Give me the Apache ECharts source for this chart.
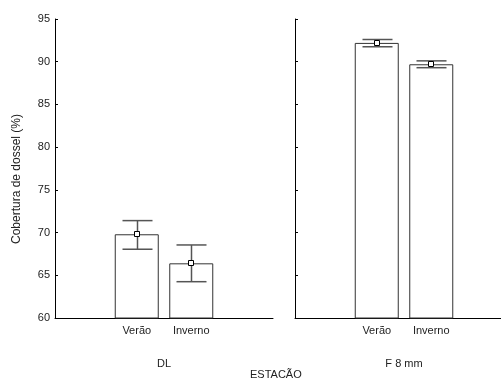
<!DOCTYPE html>
<html><head><meta charset="utf-8">
<script src="https://cdn.jsdelivr.net/npm/echarts@6/dist/echarts.min.js"></script>
<style>html,body{margin:0;padding:0;background:#fff}#c{width:501px;height:381px}</style>
</head><body><div id="c"></div>
<script>
var categories = ['', 'Verão', 'Inverno', ''];
var panelNames = ['DL', 'F 8 mm'];
var yTicks = [60, 65, 70, 75, 80, 85, 90, 95];
var dlMean = [null, 69.8, 66.4, null];
var dlLow = [null, 68.05, 64.25, null];
var dlHigh = [null, 71.4, 68.55, null];
var f8Mean = [null, 92.2, 89.7, null];
var f8Low = [null, 91.75, 89.3, null];
var f8High = [null, 92.6, 90.1, null];

var chart = echarts.init(document.getElementById('c'), null, {renderer: 'canvas'});
var font = 'Liberation Sans, Arial, sans-serif';
var txt = '#222';

function xAx(i) {
  return {
    type: 'category', gridIndex: i, data: categories,
    axisLine: {lineStyle: {color: '#000', width: 1}},
    axisTick: {inside: true, alignWithLabel: true, length: 3, lineStyle: {color: '#000'}},
    axisLabel: {color: txt, fontSize: 11, fontFamily: font, margin: 7},
    name: panelNames[i], nameLocation: 'middle', nameGap: 40,
    nameTextStyle: {color: txt, fontSize: 11, fontFamily: font}
  };
}
function yAx(i) {
  return {
    type: 'value', gridIndex: i, min: yTicks[0], max: yTicks[yTicks.length - 1], interval: 5,
    splitLine: {show: false},
    axisLine: {show: true, lineStyle: {color: '#000', width: 1}},
    axisTick: {show: true, inside: true, length: 3, lineStyle: {color: '#000'}},
    axisLabel: {show: i === 0, color: txt, fontSize: 11, fontFamily: font, margin: 5}
  };
}
function barSeries(i, data) {
  return {
    type: 'bar', xAxisIndex: i, yAxisIndex: i, data: data, barWidth: 44, silent: true,
    itemStyle: {color: '#fff', borderColor: '#333', borderWidth: 1}
  };
}
function errSeries(i, mean, low, high) {
  var d = [];
  for (var k = 0; k < mean.length; k++) if (mean[k] != null) d.push([k, mean[k], low[k], high[k]]);
  return {
    type: 'custom', xAxisIndex: i, yAxisIndex: i, data: d, silent: true, z: 5,
    renderItem: function (params, api) {
      var x = api.value(0);
      var pm = api.coord([x, api.value(1)]);
      var pl = api.coord([x, api.value(2)]);
      var ph = api.coord([x, api.value(3)]);
      var cx = Math.round(pm[0]) + 0.5;
      var st = {stroke: '#555', lineWidth: 1.5};
      return {type: 'group', children: [
        {type: 'line', shape: {x1: cx, y1: ph[1], x2: cx, y2: pl[1]}, style: st},
        {type: 'line', shape: {x1: cx - 15, y1: ph[1], x2: cx + 15, y2: ph[1]}, style: st},
        {type: 'line', shape: {x1: cx - 15, y1: pl[1], x2: cx + 15, y2: pl[1]}, style: st},
        {type: 'rect', shape: {x: cx - 3, y: Math.round(pm[1]) - 2.5, width: 5, height: 5},
         style: {fill: '#fff', stroke: '#000', lineWidth: 1}}
      ]};
    }
  };
}

chart.setOption({
  animation: false,
  backgroundColor: '#fff',
  grid: [
    {left: 55, top: 19, width: 218, height: 299, outerBoundsMode: 'none'},
    {left: 295, top: 19, width: 218, height: 299, outerBoundsMode: 'none'}
  ],
  xAxis: [xAx(0), xAx(1)],
  yAxis: [yAx(0), yAx(1)],
  graphic: [
    {type: 'text', left: 250, top: 369,
     style: {text: 'ESTACÃO', fill: txt, font: '11px ' + font}},
    {type: 'text', x: 17, y: 179, rotation: Math.PI / 2,
     style: {text: 'Cobertura de dossel (%)', fill: txt, font: '12px ' + font,
             align: 'center', verticalAlign: 'middle'}}
  ],
  series: [
    barSeries(0, dlMean), barSeries(1, f8Mean),
    errSeries(0, dlMean, dlLow, dlHigh), errSeries(1, f8Mean, f8Low, f8High)
  ]
});
</script></body></html>
